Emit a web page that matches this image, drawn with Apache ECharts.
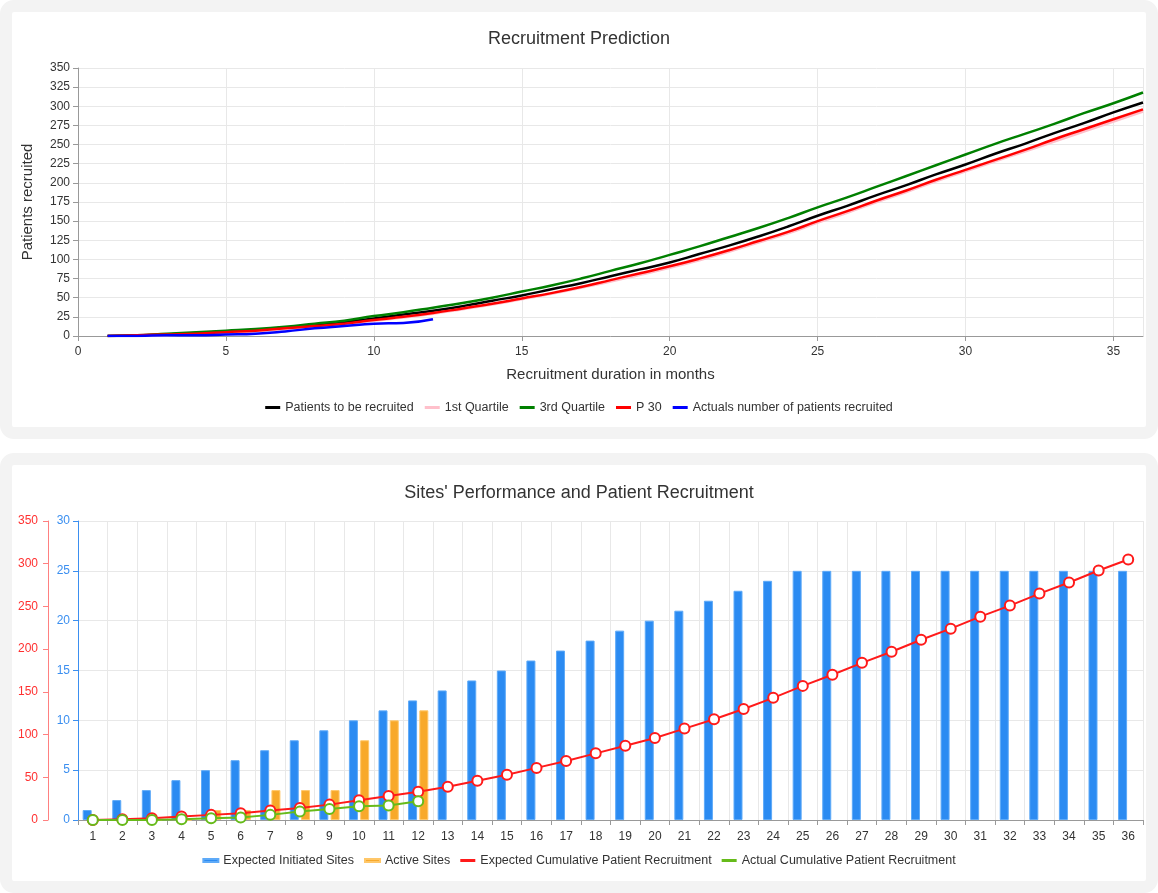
<!DOCTYPE html>
<html>
<head>
<meta charset="utf-8">
<title>Recruitment</title>
<script src="https://cdn.jsdelivr.net/npm/echarts@6/dist/echarts.min.js"></script>
<style>
html, body { margin: 0; padding: 0; background: #fff; }
.panel { position: absolute; left: 0; width: 1158px; box-sizing: border-box;
  border: 12px solid #f3f3f3; border-radius: 14px; background: #fff; }
#p1 { top: 0; height: 439px; }
#p2 { top: 453px; height: 440px; }
#chart { position: absolute; left: 0; top: 0; width: 1158px; height: 893px; }
</style>
</head>
<body>
<div class="panel" id="p1"></div>
<div class="panel" id="p2"></div>
<div id="chart"></div>
<script>
// months 1..36
var months = [];
for (var i = 1; i <= 36; i++) months.push(i);

// top chart - cumulative patients
var toBeRecruited = [0,1,2,4,6,8,11,14,18,23,28,33,39,46,53,61,69,78,87,96,107,118,130,143,157,170,184,197,211,224,238,251,265,278,292,305];
var quartile1 = [0,0,1,3,4,6,9,12,15,20,24,29,35,41,48,55,63,71,80,89,99,110,122,134,148,161,175,188,202,215,228,241,254,267,280,293];
var quartile3 = [0,1,3,5,7,9,12,16,20,26,31,37,43,50,58,66,75,85,95,106,117,129,141,154,168,181,195,209,223,237,251,264,277,291,304,318];
var p30 = [0,1,2,3,5,7,10,13,16,21,25,30,36,42,49,56,64,73,82,91,101,112,124,136,150,163,177,190,204,217,230,243,257,270,283,296];
var actuals = [0,0,1,1,2,3,6,10,13,16,17,22];

// bottom chart
var initiatedSites = [1,2,3,4,5,6,7,8,9,10,11,12,13,14,15,16,17,18,19,20,21,22,23,24,25,25,25,25,25,25,25,25,25,25,25,25];
var activeSites = [0,0,0,0,1,1,3,3,3,8,10,11];
var expectedCum = toBeRecruited;
var actualCum = [0,0,0,1,2,3,6,10,13,16,17,22];

function pairs(arr) {
  return arr.map(function (v, i) { return [months[i], v]; });
}

var myChart = echarts.init(document.getElementById('chart'));

var gridLine = { show: true, lineStyle: { color: '#e8e8e8', width: 1 } };
var axisGray = { lineStyle: { color: '#999' } };
var lbl = { color: '#333', fontSize: 12 };

var option = {
  textStyle: { fontFamily: 'Liberation Sans, Arial, sans-serif' },
  animation: false,
  title: [
    { text: 'Recruitment Prediction', left: 'center', top: 25,
      textStyle: { fontSize: 18, fontWeight: 'normal', color: '#333' } },
    { text: "Sites' Performance and Patient Recruitment", left: 'center', top: 479,
      textStyle: { fontSize: 18, fontWeight: 'normal', color: '#333' } }
  ],
  legend: [
    { top: 396, left: 'center', icon: 'rect', itemWidth: 15, itemHeight: 3, itemGap: 11,
      textStyle: { fontSize: 12.5, color: '#333' },
      data: ['Patients to be recruited', '1st Quartile', '3rd Quartile', 'P 30', 'Actuals number of patients recruited'] },
    { top: 849, left: 'center', icon: 'rect', itemWidth: 15, itemHeight: 3, itemGap: 10,
      textStyle: { fontSize: 12.5, color: '#333' },
      data: ['Expected Initiated Sites', 'Active Sites', 'Expected Cumulative Patient Recruitment', 'Actual Cumulative Patient Recruitment'] }
  ],
  grid: [
    { left: 78, right: 15, top: 68, height: 268 },
    { left: 78, right: 15, top: 521, height: 299 }
  ],
  xAxis: [
    { type: 'value', gridIndex: 0, min: 0, max: 36, interval: 5,
      axisLabel: Object.assign({ showMaxLabel: false, margin: 10 }, lbl),
      axisLine: axisGray, axisTick: { show: true, lineStyle: { color: '#999' } },
      splitLine: gridLine,
      name: 'Recruitment duration in months', nameLocation: 'middle', nameGap: 31,
      nameTextStyle: { fontSize: 15, color: '#333' } },
    { type: 'category', gridIndex: 1, data: months,
      axisLabel: Object.assign({ margin: 11 }, lbl),
      axisLine: axisGray, axisTick: { show: true, lineStyle: { color: '#999' } },
      splitLine: gridLine }
  ],
  yAxis: [
    { type: 'value', gridIndex: 0, min: 0, max: 350, interval: 25,
      axisLabel: lbl, axisLine: { show: true, lineStyle: { color: '#999' } },
      axisTick: { show: true, lineStyle: { color: '#999' } },
      splitLine: gridLine,
      name: 'Patients recruited', nameLocation: 'middle', nameGap: 43,
      nameTextStyle: { fontSize: 15, color: '#333' } },
    { type: 'value', gridIndex: 1, min: 0, max: 30, interval: 5, position: 'left',
      axisLabel: { color: '#3b8ff0', fontSize: 12 },
      axisLine: { show: true, lineStyle: { color: '#3b8ff0' } },
      axisTick: { show: true, lineStyle: { color: '#3b8ff0' } },
      splitLine: gridLine },
    { type: 'value', gridIndex: 1, min: 0, max: 350, interval: 50, position: 'left', offset: 30,
      axisLabel: { color: '#ff3030', fontSize: 12, margin: 10 },
      axisLine: { show: true, lineStyle: { color: '#ff8080' } },
      axisTick: { show: true, lineStyle: { color: '#ff8080' } },
      splitLine: { show: false } }
  ],
  series: [
    { name: 'Patients to be recruited', type: 'line', xAxisIndex: 0, yAxisIndex: 0,
      data: pairs(toBeRecruited), smooth: true, showSymbol: false,
      color: '#000', lineStyle: { width: 2.5 } },
    { name: '1st Quartile', type: 'line', xAxisIndex: 0, yAxisIndex: 0,
      data: pairs(quartile1), smooth: true, showSymbol: false,
      color: '#ffc0cb', lineStyle: { width: 2.5 } },
    { name: '3rd Quartile', type: 'line', xAxisIndex: 0, yAxisIndex: 0,
      data: pairs(quartile3), smooth: true, showSymbol: false,
      color: '#008000', lineStyle: { width: 2.5 } },
    { name: 'P 30', type: 'line', xAxisIndex: 0, yAxisIndex: 0,
      data: pairs(p30), smooth: true, showSymbol: false,
      color: '#ff0000', lineStyle: { width: 2.5 } },
    { name: 'Actuals number of patients recruited', type: 'line', xAxisIndex: 0, yAxisIndex: 0,
      data: pairs(actuals), smooth: true, showSymbol: false,
      color: '#0000ff', lineStyle: { width: 2.5 } },

    { name: 'Expected Initiated Sites', type: 'bar', xAxisIndex: 1, yAxisIndex: 1,
      data: initiatedSites, barWidth: 9, barGap: '25%', color: '#2b8bf2',
      itemStyle: { borderColor: '#5eaaf8', borderWidth: 1 } },
    { name: 'Active Sites', type: 'bar', xAxisIndex: 1, yAxisIndex: 1,
      data: activeSites, barWidth: 9, color: '#f8a92a',
      itemStyle: { borderColor: '#ffc769', borderWidth: 1 } },
    { name: 'Expected Cumulative Patient Recruitment', type: 'line', xAxisIndex: 1, yAxisIndex: 2,
      data: expectedCum, symbol: 'emptyCircle', symbolSize: 10, color: '#ff1a1a',
      itemStyle: { borderWidth: 2 }, lineStyle: { width: 2 } },
    { name: 'Actual Cumulative Patient Recruitment', type: 'line', xAxisIndex: 1, yAxisIndex: 2,
      data: actualCum, symbol: 'emptyCircle', symbolSize: 10, color: '#66bb1a',
      itemStyle: { borderWidth: 2 }, lineStyle: { width: 2 } }
  ]
};

myChart.setOption(option);
</script>
</body>
</html>
